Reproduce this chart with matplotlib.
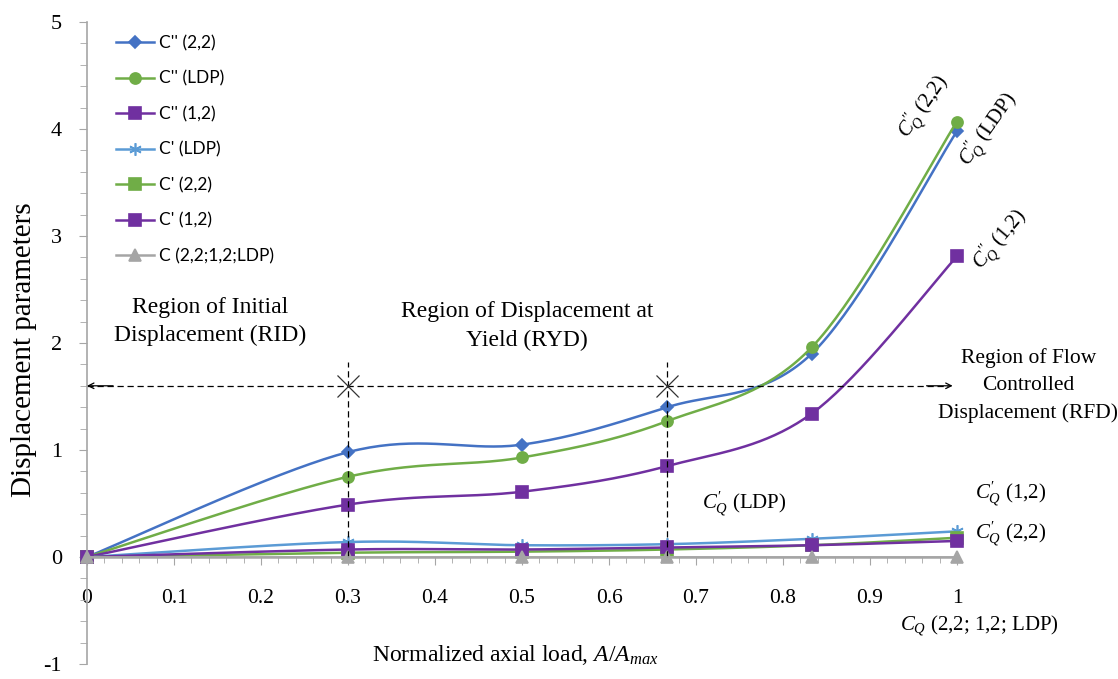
import numpy as np
import matplotlib.pyplot as plt
from matplotlib.ticker import MultipleLocator, FormatStrFormatter

plt.rcParams['font.family'] = 'Liberation Serif'
plt.rcParams['mathtext.fontset'] = 'custom'
plt.rcParams['mathtext.rm'] = 'Liberation Serif'
plt.rcParams['mathtext.it'] = 'Liberation Serif:italic'
plt.rcParams['axes.unicode_minus'] = False

# normalized axial load A/Amax
load = [0, 0.3, 0.5, 0.667, 0.833, 1.0]

c2_22 = [0, 0.98, 1.05, 1.40, 1.90, 3.98]
c2_ldp = [0, 0.75, 0.93, 1.27, 1.96, 4.07]
c2_12 = [0, 0.49, 0.61, 0.85, 1.34, 2.81]
c1_ldp = [0, 0.14, 0.11, 0.12, 0.17, 0.24]
c1_22 = [0, 0.04, 0.05, 0.07, 0.11, 0.18]
c1_12 = [0, 0.07, 0.07, 0.09, 0.11, 0.15]
c0_all = [0, 0, 0, 0, 0, 0]

labels = ["C'' (2,2)", "C'' (LDP)", "C'' (1,2)", "C' (LDP)",
          "C' (2,2)", "C' (1,2)", "C (2,2;1,2;LDP)"]
colors = ['#4472C4', '#70AD47', '#7030A0', '#5B9BD5',
          '#70AD47', '#7030A0', '#A5A5A5']
markers = ['D', 'o', 's', (6, 2, 0), 's', 's', '^']
msizes = [6, 8, 8.5, 9, 8.5, 8.5, 8.5]


def smooth(xs, ys, n=40):
    # Catmull-Rom style bezier through the points (like Excel's smoothed line)
    p = np.column_stack([xs, ys]).astype(float)
    p = np.vstack([p[0], p, p[-1]])
    out = []
    t = np.linspace(0, 1, n)[:, None]
    for i in range(1, len(p) - 2):
        p0, p1, p2, p3 = p[i - 1], p[i], p[i + 1], p[i + 2]
        c1 = p1 + (p2 - p0) / 6
        c2 = p2 - (p3 - p1) / 6
        seg = ((1 - t) ** 3) * p1 + 3 * ((1 - t) ** 2) * t * c1 \
            + 3 * (1 - t) * t ** 2 * c2 + t ** 3 * p2
        out.append(seg)
    seg = np.vstack(out)
    return seg[:, 0], seg[:, 1]


fig = plt.figure(figsize=(11.18, 6.79), dpi=100)
ax = fig.add_axes([87 / 1118, 1 - 664 / 679, 870 / 1118, 642 / 679])

series = [c2_22, c2_ldp, c2_12, c1_ldp, c1_22, c1_12, c0_all]
for ys, lab, col, mk, ms in zip(series, labels, colors, markers, msizes):
    sx, sy = smooth(load, ys)
    ax.plot(sx, sy, color=col, lw=1.8, clip_on=False)
    ax.plot(load, ys, ls='none', marker=mk, ms=ms, color=col,
            mew=1.2, clip_on=False)
    ax.plot([], [], color=col, lw=1.8, marker=mk, ms=ms, mew=1.2, label=lab)

# region boundaries
ax.plot([0, 0.99], [1.6, 1.6], color='black', lw=0.9, ls=(0, (5, 3)), clip_on=False)
for xb in [0.3, 0.667]:
    ax.plot([xb, xb], [0, 1.82], color='black', lw=0.9, ls=(0, (5, 3)))
    ax.plot(xb, 1.6, marker='x', ms=16, mew=0.9, color='#333333')
ax.annotate('', xy=(0, 1.6), xytext=(0.03, 1.6),
            arrowprops=dict(arrowstyle='->', lw=0.9, color='black',
                            shrinkA=0, shrinkB=0), annotation_clip=False)
ax.annotate('', xy=(0.995, 1.6), xytext=(0.965, 1.6),
            arrowprops=dict(arrowstyle='->', lw=0.9, color='black',
                            shrinkA=0, shrinkB=0), annotation_clip=False)

ax.text(0.142, 2.2, 'Region of Initial\nDisplacement (RID)', ha='center',
        va='center', fontsize=17, linespacing=1.45)
ax.text(0.506, 2.16, 'Region of Displacement at\nYield (RYD)', ha='center',
        va='center', fontsize=17, linespacing=1.45)
ax.text(1.082, 1.6, 'Region of Flow\nControlled\nDisplacement (RFD)',
        ha='center', va='center', fontsize=15.5, linespacing=1.55, clip_on=False)

# curve labels
ax.text(0.962, 4.20, r"$C^{\prime\prime}_{Q}$ (2,2)", rotation=55,
        rotation_mode='anchor', ha='center', va='center', fontsize=15)
ax.text(1.037, 3.99, r"$C^{\prime\prime}_{Q}$ (LDP)", rotation=55,
        rotation_mode='anchor', ha='center', va='center', fontsize=15)
ax.text(1.05, 2.96, r"$C^{\prime\prime}_{Q}$ (1,2)", rotation=50,
        rotation_mode='anchor', ha='center', va='center', fontsize=15)
ax.text(0.756, 0.49, r"$C^{\prime}_{Q}$ (LDP)", ha='center', va='center',
        fontsize=15)
ax.text(1.021, 0.59, r"$C^{\prime}_{Q}$ (1,2)", ha='left', va='center',
        fontsize=15)
ax.text(1.021, 0.21, r"$C^{\prime}_{Q}$ (2,2)", ha='left', va='center',
        fontsize=15)
ax.text(0.934, -0.64, r"$C_Q$ (2,2; 1,2; LDP)", ha='left', va='center',
        fontsize=15)

ax.set_xlim(0, 1)
ax.set_ylim(-1, 5)
for s in ['top', 'right']:
    ax.spines[s].set_visible(False)
ax.spines['bottom'].set_position(('data', 0))
ax.spines['bottom'].set_color('#A6A6A6')
ax.spines['left'].set_color('#A6A6A6')
ax.spines['bottom'].set_linewidth(1.2)
ax.spines['left'].set_linewidth(1.2)

ax.xaxis.set_major_locator(MultipleLocator(0.1))
ax.xaxis.set_minor_locator(MultipleLocator(0.02))
ax.yaxis.set_major_locator(MultipleLocator(1))
ax.yaxis.set_minor_locator(MultipleLocator(0.2))
ax.xaxis.set_major_formatter(FormatStrFormatter('%g'))
ax.tick_params(axis='x', which='major', length=6, color='#A6A6A6',
               labelsize=15.5, pad=17)
ax.tick_params(axis='x', which='minor', length=4, color='#A6A6A6')
ax.tick_params(axis='y', which='major', length=6, color='#A6A6A6',
               labelsize=16, pad=12)
ax.tick_params(axis='y', which='minor', length=5, color='#A6A6A6')

ax.set_ylabel('Displacement parameters', fontsize=21)
ax.yaxis.set_label_coords(-0.058, 0.49)
fig.text(515 / 1118, 1 - 655 / 679, r'Normalized axial load, $A/A_{max}$',
         ha='center', va='center', fontsize=17)

ax.legend(loc='upper left', bbox_to_anchor=(109 / 1118, 1 - 28 / 679),
          bbox_transform=fig.transFigure, frameon=False, numpoints=1,
          prop={'family': 'Lato', 'size': 12.5}, handlelength=2.2,
          labelspacing=1.12, handletextpad=0.3, borderaxespad=0)

fig.savefig('out.png', dpi=100)
